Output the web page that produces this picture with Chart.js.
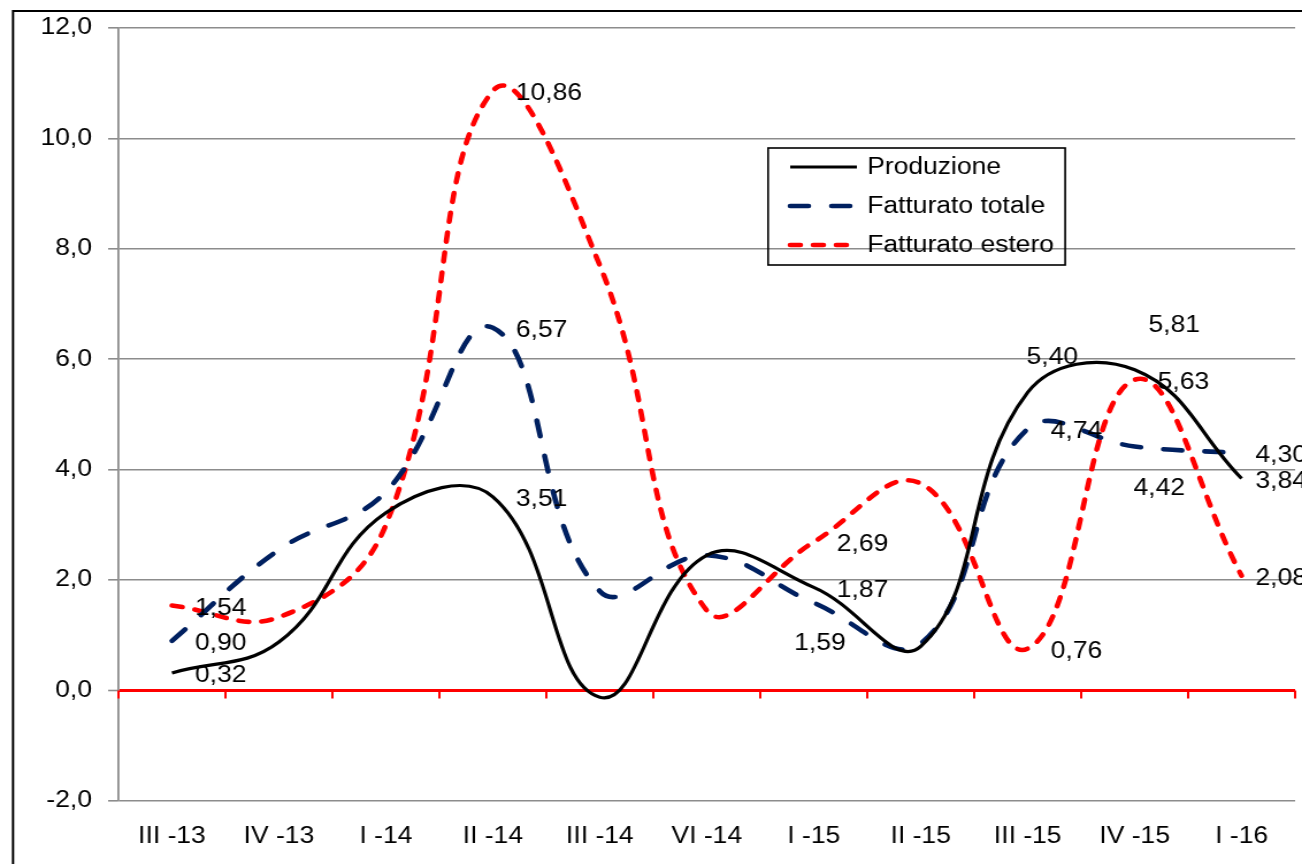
<!DOCTYPE html>
<html>
<head>
<meta charset="utf-8">
<script src="https://cdn.jsdelivr.net/npm/chart.js@4.4.1/dist/chart.umd.min.js"></script>
<style>
  html, body { margin: 0; padding: 0; background: #fff; overflow: hidden; }
  #wrap { width: 1132px; height: 864px; transform: scaleX(1.15018); transform-origin: 0 0; }
</style>
</head>
<body>
<div id="wrap"><canvas id="c" width="1132" height="864"></canvas></div>
<script>
// values
const quarters = ['III -13', 'IV -13', 'I -14', 'II -14', 'III -14', 'VI -14', 'I -15', 'II -15', 'III -15', 'IV -15', 'I -16'];
const produzione = [0.32, 0.88, 3.22, 3.51, -0.12, 2.45, 1.87, 0.80, 5.40, 5.81, 3.84];
const fatturatoTotale = [0.90, 2.55, 3.60, 6.57, 1.80, 2.45, 1.59, 0.85, 4.74, 4.42, 4.30];
const fatturatoEstero = [1.54, 1.33, 3.00, 10.86, 7.70, 1.45, 2.69, 3.75, 0.76, 5.63, 2.08];
const labelledQuarters = [0, 3, 6, 8, 9, 10];
const yTicks = [-2, 0, 2, 4, 6, 8, 10, 12];

const FONT = '"Liberation Sans", Arial, sans-serif';

// where each data label sits relative to its point (Excel layout)
const placements = {
  right: [20, 3], end: [12, 3], above: [-1, -35], aboveRight: [12, -44],
  below: [-1, 42], belowLeft: [-17, 41]
};
const labelPlacement = {
  'Produzione': { 8: 'above', 9: 'aboveRight', 10: 'end' },
  'Fatturato totale': { 6: 'belowLeft', 9: 'below', 10: 'end' },
  'Fatturato estero': { 10: 'end' }
};

const frame = {
  id: 'frame',
  beforeDraw(chart) {
    const ctx = chart.ctx;
    ctx.save();
    ctx.fillStyle = '#fff';
    ctx.fillRect(0, 0, chart.width, chart.height);
    ctx.strokeStyle = '#000';
    ctx.lineWidth = 2;
    ctx.strokeRect(11.3, 11, chart.width + 20, chart.height + 20);
    ctx.restore();
  }
};

const categoryTicks = {
  id: 'categoryTicks',
  beforeDatasetsDraw(chart) {
    const xs = chart.scales.x, ys = chart.scales.y, ctx = chart.ctx;
    const y0 = ys.getPixelForValue(0);
    ctx.save();
    ctx.strokeStyle = '#ff0000';
    ctx.lineWidth = 2;
    for (let i = 0; i <= quarters.length; i++) {
      const x = xs.getPixelForValue(i - 0.5);
      ctx.beginPath();
      ctx.moveTo(x, y0);
      ctx.lineTo(x, y0 + 8);
      ctx.stroke();
    }
    ctx.restore();
  }
};

const dataLabels = {
  id: 'dataLabels',
  afterDatasetsDraw(chart) {
    const ctx = chart.ctx;
    ctx.save();
    ctx.font = '23px ' + FONT;
    ctx.fillStyle = '#000';
    ctx.textAlign = 'left';
    ctx.textBaseline = 'middle';
    chart.data.datasets.forEach((ds, di) => {
      const meta = chart.getDatasetMeta(di);
      labelledQuarters.forEach(i => {
        const pt = meta.data[i];
        const p = placements[(labelPlacement[ds.label] || {})[i] || 'right'];
        ctx.fillText(ds.data[i].toFixed(2).replace('.', ','), pt.x + p[0], pt.y + p[1]);
      });
    });
    ctx.restore();
  }
};

const boxLegend = {
  id: 'boxLegend',
  afterDraw(chart) {
    const ctx = chart.ctx;
    ctx.save();
    ctx.strokeStyle = '#000';
    ctx.lineWidth = 1.6;
    ctx.strokeRect(667.8, 148, 258.3, 117);
    ctx.font = '23px ' + FONT;
    ctx.textBaseline = 'middle';
    ctx.fillStyle = '#000';
    chart.data.datasets.forEach((ds, i) => {
      const y = 167 + i * 39;
      ctx.strokeStyle = ds.borderColor;
      ctx.lineWidth = ds.borderWidth;
      ctx.lineCap = ds.borderCapStyle || 'butt';
      ctx.setLineDash(ds.borderDash || []);
      ctx.beginPath();
      ctx.moveTo(687, y);
      ctx.lineTo(745, y);
      ctx.stroke();
      ctx.setLineDash([]);
      ctx.fillText(ds.label, 754, y + 1);
    });
    ctx.restore();
  }
};

new Chart(document.getElementById('c'), {
  type: 'line',
  data: {
    labels: quarters,
    datasets: [
      { label: 'Produzione', data: produzione, borderColor: '#000000', borderWidth: 3.2 },
      { label: 'Fatturato totale', data: fatturatoTotale, borderColor: '#002060', borderWidth: 4.6,
        borderDash: [16, 20], borderCapStyle: 'round' },
      { label: 'Fatturato estero', data: fatturatoEstero, borderColor: '#ff0000', borderWidth: 4.6,
        borderDash: [9, 11], borderCapStyle: 'round' }
    ]
  },
  options: {
    responsive: false,
    animation: false,
    devicePixelRatio: 1,
    elements: {
      point: { radius: 0, hoverRadius: 0 },
      line: { tension: 0.42, fill: false }
    },
    layout: { padding: { left: 0, top: 28, right: 6, bottom: 0 } },
    plugins: { legend: { display: false }, tooltip: { enabled: false } },
    scales: {
      x: {
        offset: true,
        grid: { display: false, drawTicks: false, offset: true },
        border: { display: false },
        ticks: { color: '#000', font: { size: 23, family: FONT }, padding: 22, maxRotation: 0, autoSkip: false },
        afterFit: s => { s.height = 63; }
      },
      y: {
        min: -2,
        max: 12,
        afterBuildTicks: s => { s.ticks = yTicks.map(v => ({ value: v })); },
        grid: {
          color: c => c.tick && c.tick.value === 0 ? '#ff0000' : '#8c8c8c',
          lineWidth: c => c.tick && c.tick.value === 0 ? 3 : 1.6,
          tickColor: '#8c8c8c',
          tickWidth: 1.6,
          tickLength: 9
        },
        border: { display: true, color: '#8c8c8c', width: 1.8 },
        ticks: {
          color: '#000',
          font: { size: 23, family: FONT },
          padding: 14,
          callback: v => v.toFixed(1).replace('.', ',')
        },
        afterFit: s => { s.width = 103; }
      }
    }
  },
  plugins: [frame, categoryTicks, dataLabels, boxLegend]
});
</script>
</body>
</html>
